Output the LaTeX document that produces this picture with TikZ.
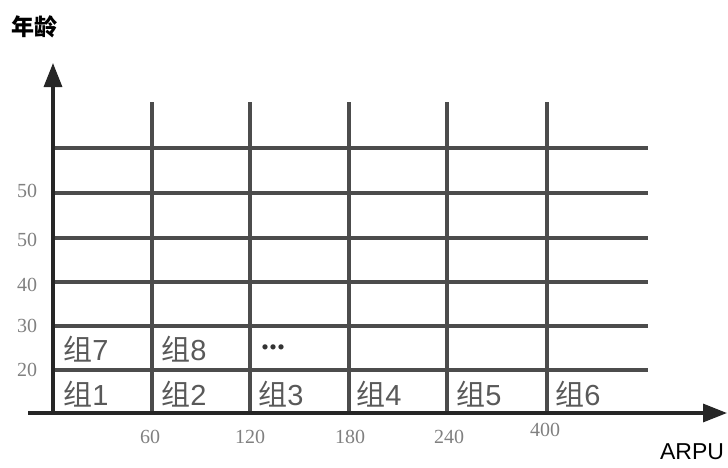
\documentclass[tikz,border=0pt]{standalone}
\usepackage{fontspec}
\setmainfont{Liberation Serif}
\setsansfont{Liberation Sans}
\newfontfamily\cjk{Noto Sans CJK SC}
\usetikzlibrary{arrows.meta}
\begin{document}
\begin{tikzpicture}[x=1pt,y=-1pt,
  gridline/.style={draw=black!70,line width=3.2pt},
  axisline/.style={draw=black!85,line width=3.2pt,-{Triangle[length=24pt,width=18pt]}},
  ylab/.style={font=\fontsize{20}{20}\selectfont,text=black!50},
  xlab/.style={font=\fontsize{20}{20}\selectfont,text=black!50},
  cell/.style={font=\fontsize{29}{29}\selectfont,text=black!65}]
\useasboundingbox (0,0) rectangle (728,467);
% coordinates
\coordinate (yb) at (53,413);
\coordinate (yt) at (53,63);
\coordinate (xl) at (28,413);
\coordinate (xr) at (727,413);
% horizontal grid lines
\foreach \y [count=\i] in {148,193,238,282,326,370} {
  \coordinate (hl\i) at (55,\y);
  \coordinate (hr\i) at (648,\y);
  \draw[gridline] (hl\i) -- (hr\i);
}
% vertical grid lines
\foreach \x [count=\i] in {152,250,349,447,547} {
  \coordinate (vt\i) at (\x,102);
  \coordinate (vb\i) at (\x,413);
  \draw[gridline] (vt\i) -- (vb\i);
}
% axes
\draw[axisline] (yb) -- (yt);
\draw[axisline] (xl) -- (xr);
% axis titles
\node[font=\cjk\bfseries\fontsize{23}{23}\selectfont] (ytitle) at (35,27) {年龄};
\node[font=\sffamily\fontsize{23}{23}\selectfont] (xtitle) at (692,452) {ARPU};
% y labels
\node[ylab] (y60) at (27,191) {50};
\node[ylab] (y50) at (27,240) {50};
\node[ylab] (y40) at (27,285) {40};
\node[ylab] (y30) at (27,326) {30};
\node[ylab] (y20) at (27,370) {20};
% x labels
\node[xlab] (x60) at (150,437) {60};
\node[xlab] (x120) at (250,437) {120};
\node[xlab] (x180) at (350,437) {180};
\node[xlab] (x240) at (449,437) {240};
\node[xlab] (x400) at (545,430) {400};
% cell labels
\node[cell] (g1) at (86,394) {{\cjk 组}\sffamily 1};
\node[cell] (g2) at (184,394) {{\cjk 组}\sffamily 2};
\node[cell] (g3) at (281,394) {{\cjk 组}\sffamily 3};
\node[cell] (g4) at (379,394) {{\cjk 组}\sffamily 4};
\node[cell] (g5) at (479,394) {{\cjk 组}\sffamily 5};
\node[cell] (g6) at (578,394) {{\cjk 组}\sffamily 6};
\node[cell] (g7) at (86,349) {{\cjk 组}\sffamily 7};
\node[cell] (g8) at (184,349) {{\cjk 组}\sffamily 8};
\node[font=\bfseries\fontsize{32}{32}\selectfont,text=black!80] (dots) at (273,347) {...};
\end{tikzpicture}
\end{document}
